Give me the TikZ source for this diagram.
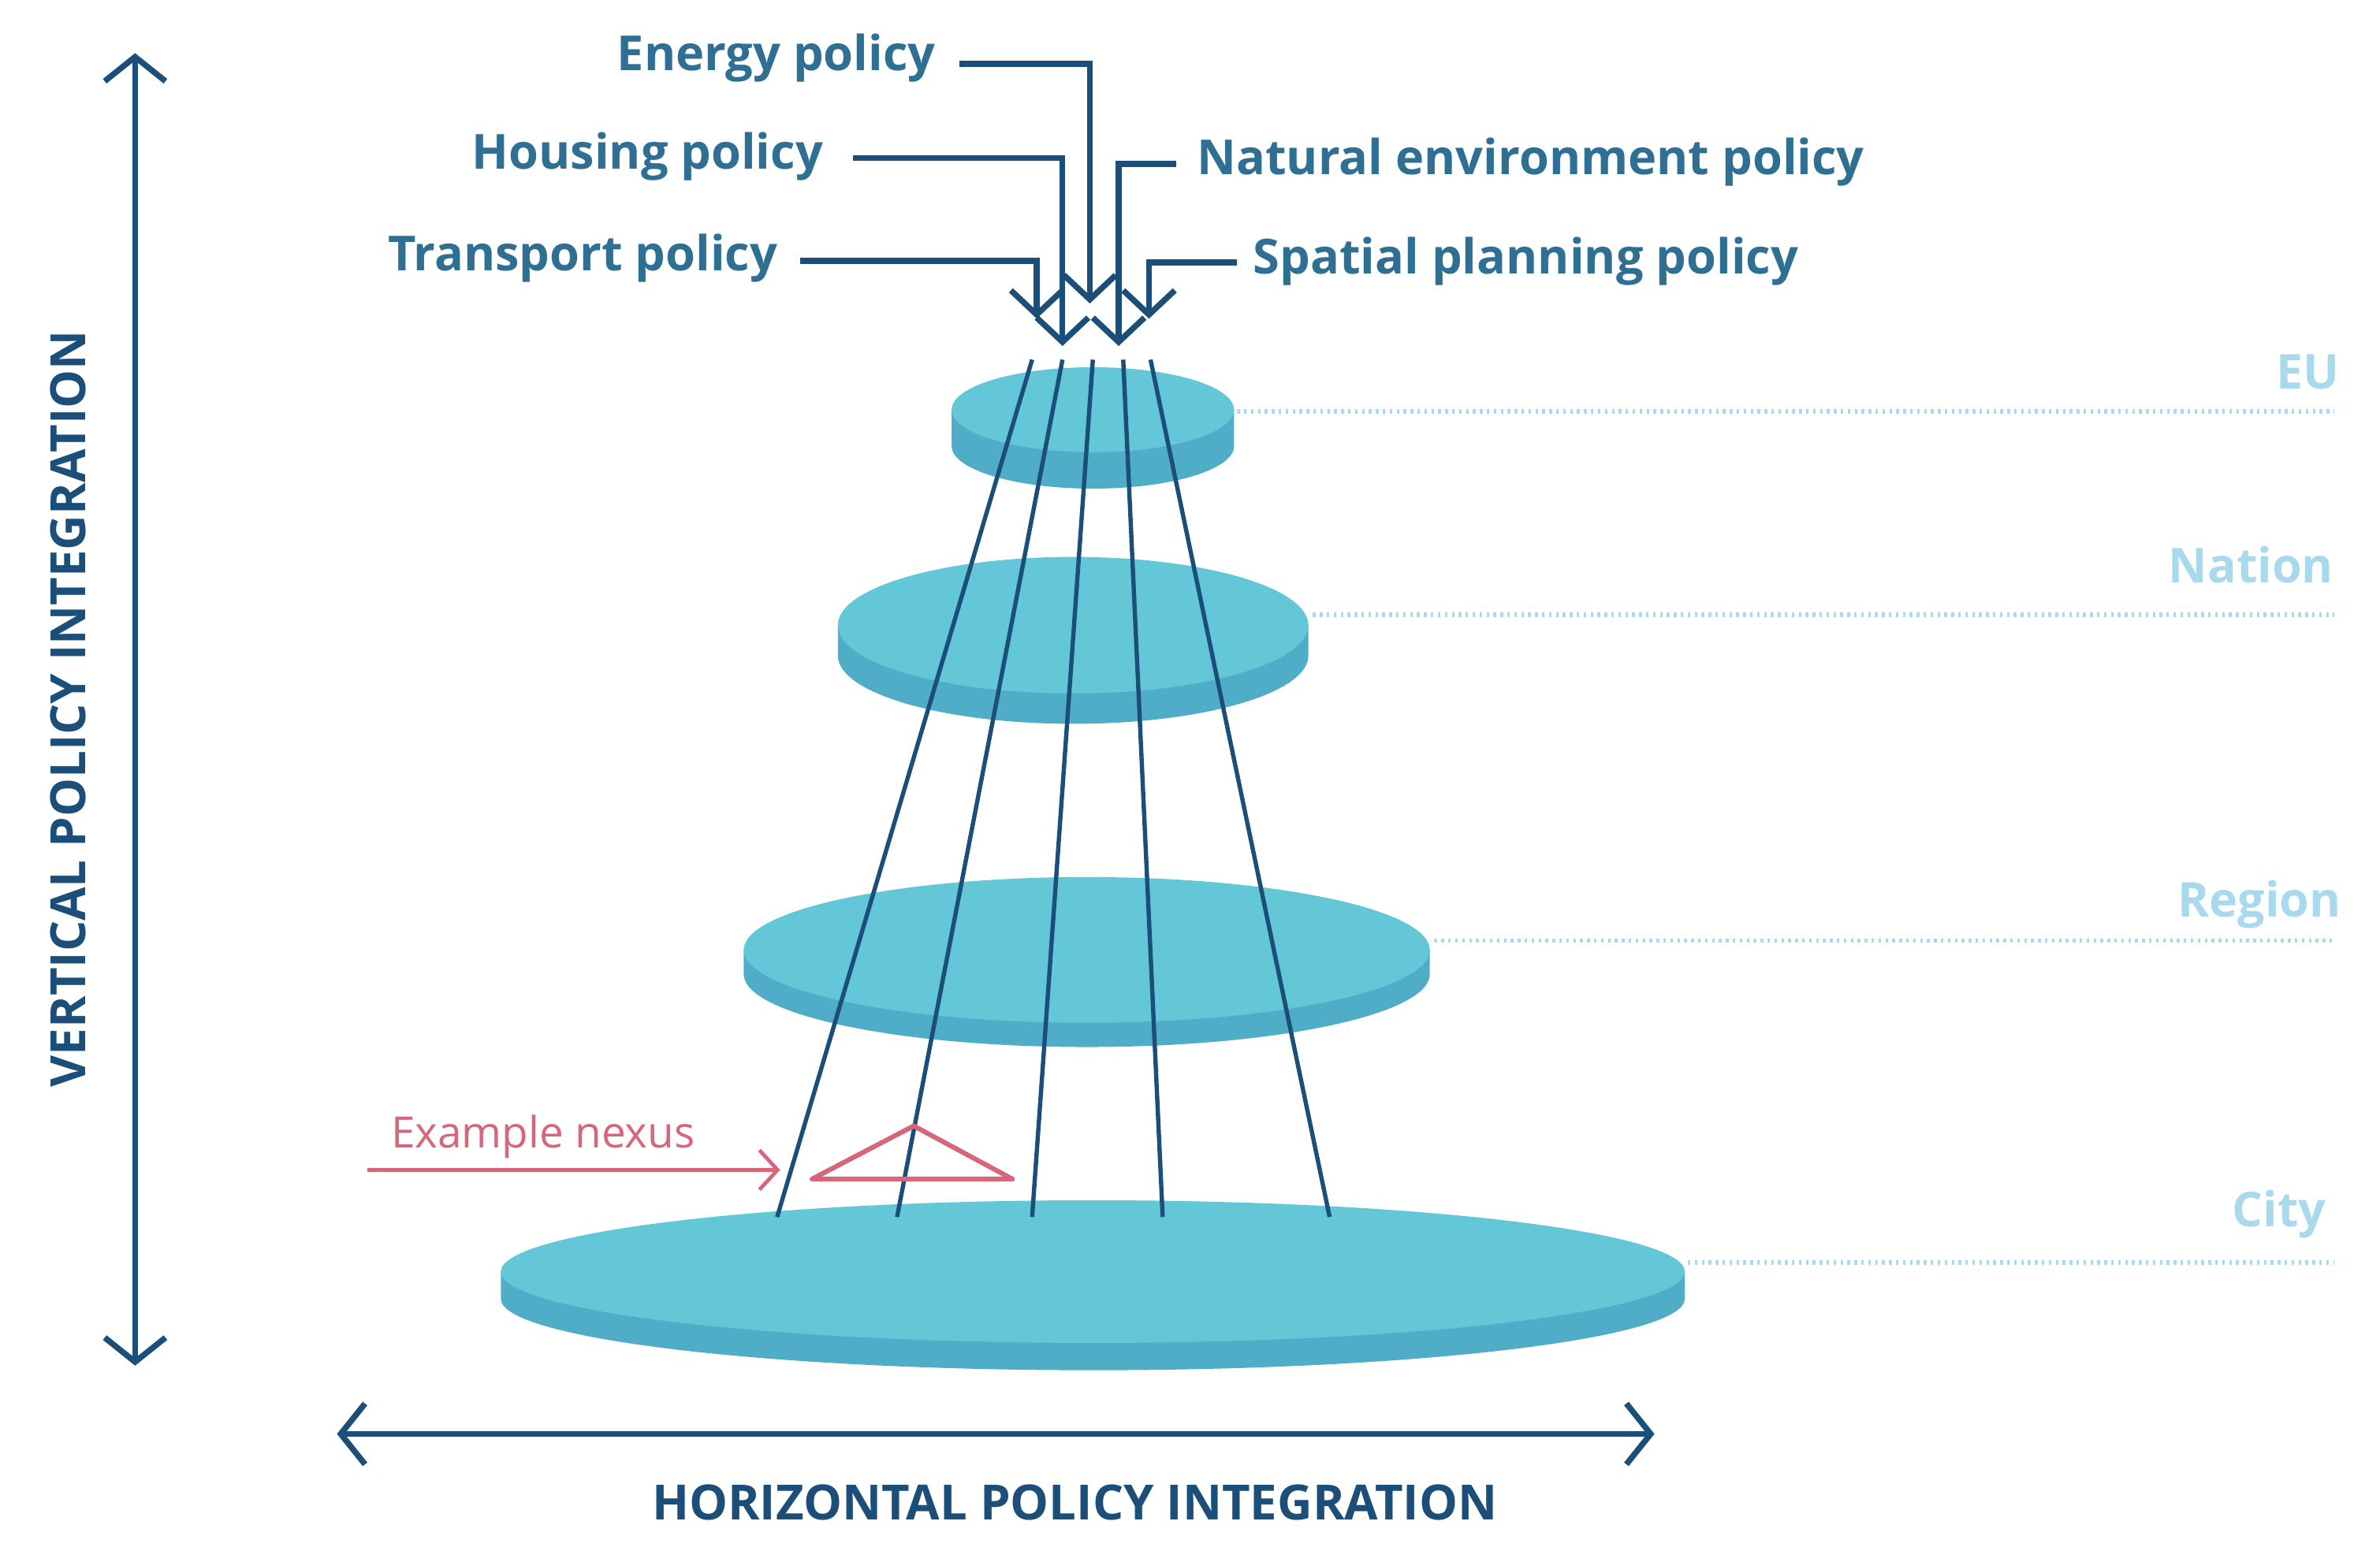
\documentclass[tikz,border=0pt]{standalone}
\usepackage{fontspec}
\setmainfont{Open Sans}
\usetikzlibrary{arrows.meta}
\definecolor{dk}{HTML}{1B4F7A}
\definecolor{tx}{HTML}{2F6F94}
\definecolor{lt}{HTML}{A9D9EC}
\definecolor{topc}{HTML}{64C7D8}
\definecolor{sidec}{HTML}{50ADC7}
\definecolor{pk}{HTML}{D8667B}
\tikzset{
 pol/.style={font=\fontsize{9.05}{11}\selectfont\bfseries, text=tx, inner sep=0pt},
 lvl/.style={font=\fontsize{9}{11}\selectfont\bfseries, text=lt, inner sep=0pt, anchor=east},
 axl/.style={font=\fontsize{9.1}{11}\selectfont\bfseries, text=dk, inner sep=0pt},
 parr/.style={draw=dk, line width=1.1pt, -{Straight Barb[length=1.6mm, width=3.4mm, line width=1.1pt]}},
 pline/.style={draw=dk, line width=0.8pt},
 dots/.style={draw=lt, line width=0.8pt, dash pattern=on 0.5pt off 0.8pt},
 bigarr/.style={draw=dk, line width=1.1pt, {Straight Barb[length=1.6mm, width=4mm, line width=1.1pt]}-{Straight Barb[length=1.6mm, width=4mm, line width=1.1pt]}}
}
\newcommand{\disk}[5]{% cx, cy(top center), rx, ry, thickness
 \fill[sidec] (#1-#3,#2) -- (#1-#3,#2+#5) arc[start angle=180,end angle=0,x radius=#3,y radius=#4] -- (#1+#3,#2) -- cycle;
 \fill[topc] (#1,#2) ellipse[x radius=#3,y radius=#4];
}
\begin{document}
\begin{tikzpicture}[x=0.01cm,y=-0.01cm]
\useasboundingbox (0,0) rectangle (1568,1029);
% disks
\disk{720}{838}{390}{47}{18}
\disk{716}{626}{226}{48}{16}
\disk{707}{412}{155}{45}{20}
\disk{720}{270}{93}{28}{24}
% dotted level lines and labels
\coordinate (eu0) at (815,271); \coordinate (eu1) at (1538,271);
\coordinate (na0) at (865,405); \coordinate (na1) at (1538,405);
\coordinate (re0) at (945,620); \coordinate (re1) at (1538,620);
\coordinate (ci0) at (1112,832); \coordinate (ci1) at (1538,832);
\draw[dots] (eu0) -- (eu1);
\draw[dots] (na0) -- (na1);
\draw[dots] (re0) -- (re1);
\draw[dots] (ci0) -- (ci1);
\node[lvl] (eu) at (1542,245) {EU};
\node[lvl] (nation) at (1538,372) {Nation};
\node[lvl] (region) at (1543,596) {Region};
\node[lvl] (city) at (1533,800) {City};
% policy lines
\foreach \a/\b [count=\i] in {680/512,700/591,720/680,740/766,758/876}{
 \coordinate (ps\i) at (\a,237); \coordinate (pe\i) at (\b,802);
 \draw[pline] (ps\i) -- (pe\i);
}
% policy labels and arrows
\node[pol,anchor=east] (energy) at (617,38) {Energy policy};
\node[pol,anchor=east] (housing) at (543,103) {Housing policy};
\node[pol,anchor=east] (transport) at (513,170) {Transport policy};
\node[pol,anchor=west] (natural) at (788,107) {Natural environment policy};
\node[pol,anchor=west] (spatial) at (825,172) {Spatial planning policy};
\coordinate (se) at (632,42);  \coordinate (te) at (718,200);
\coordinate (sh) at (562,104); \coordinate (th) at (700,228);
\coordinate (sn) at (775,108); \coordinate (tn) at (737,228);
\coordinate (st) at (527,172); \coordinate (tt) at (683,210);
\coordinate (ss) at (815,173); \coordinate (ts) at (757,210);
\draw[parr] (se) -| (te);
\draw[parr] (sh) -| (th);
\draw[parr] (sn) -| (tn);
\draw[parr] (st) -| (tt);
\draw[parr] (ss) -| (ts);
% axes
\coordinate (v0) at (89,35); \coordinate (v1) at (89,900);
\coordinate (h0) at (222,945); \coordinate (h1) at (1090,945);
\draw[bigarr] (v0) -- (v1);
\draw[bigarr] (h0) -- (h1);
\node[axl,rotate=90] (vert) at (45,467) {VERTICAL POLICY INTEGRATION};
\node[axl] (horiz) at (708,990) {HORIZONTAL POLICY INTEGRATION};
% example nexus
\node[inner sep=0pt, anchor=west, text=pk, font=\fontsize{8.1}{10}\selectfont] (nexus) at (257,749) {Example nexus};
\coordinate (nx0) at (242,771); \coordinate (nx1) at (514,771);
\draw[pk, line width=0.7pt, -{Straight Barb[length=1.2mm, width=2.6mm, line width=0.7pt]}] (nx0) -- (nx1);
\coordinate (tr1) at (535,777); \coordinate (tr2) at (602,742); \coordinate (tr3) at (667,777);
\draw[pk, line width=0.9pt, line join=round] (tr1) -- (tr2) -- (tr3) -- cycle;
\end{tikzpicture}
\end{document}
